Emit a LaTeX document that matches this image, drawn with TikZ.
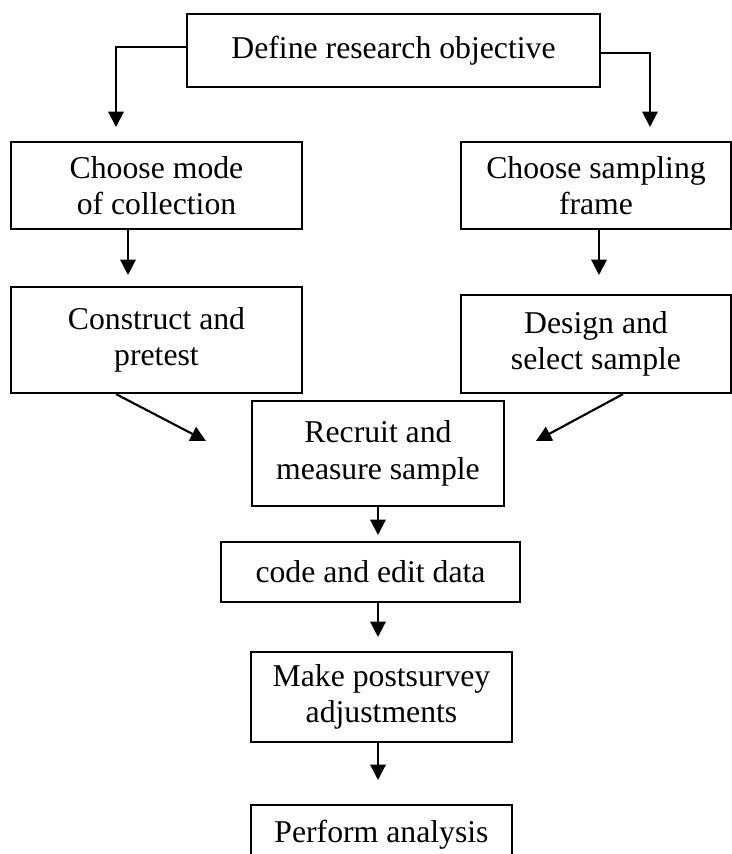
\documentclass[tikz,border=0pt]{standalone}
\usepackage{fontspec}
\setmainfont{Liberation Serif}
\usetikzlibrary{arrows.meta}
\begin{document}
\begin{tikzpicture}[x=0.75pt,y=-0.75pt,
  box/.style={draw, line width=1.6pt, align=center, inner sep=0pt,
    font=\fontsize{23.8}{27.5}\selectfont},
  arr/.style={line width=1.6pt, -{Triangle[length=11.5pt,width=11.5pt]}}]
\useasboundingbox (0,0) rectangle (732,854);
\clip (0,0) rectangle (732,854);
% boxes
\node[box, minimum width=413*0.75pt, minimum height=73*0.75pt] (def) at (393.5,50.5) {Define research objective};
\node[box, minimum width=291*0.75pt, minimum height=87*0.75pt] (mode) at (156.5,185.5) {Choose mode\\of collection};
\node[box, minimum width=270*0.75pt, minimum height=87*0.75pt] (frame) at (596,185.5) {Choose sampling\\frame};
\node[box, minimum width=291*0.75pt, minimum height=106*0.75pt] (cons) at (156.5,340) {Construct and\\pretest};
\node[box, minimum width=270*0.75pt, minimum height=98*0.75pt] (design) at (596,344) {Design and\\select sample};
\node[box, minimum width=252*0.75pt, minimum height=105*0.75pt] (recruit) at (378,453.5) {Recruit and\\measure sample};
\node[box, minimum width=299*0.75pt, minimum height=60*0.75pt] (code) at (370.5,572) {code and edit data};
\node[box, minimum width=261*0.75pt, minimum height=90*0.75pt] (make) at (381.5,697) {Make postsurvey\\adjustments};
\node[box, minimum width=261*0.75pt, minimum height=60*0.75pt] (perf) at (381.5,835) {Perform analysis};
% helper coordinates
\coordinate (yl) at (0,47);
\coordinate (yr) at (0,53);
\coordinate (tl) at (116,127);
\coordinate (tr) at (650,127);
\coordinate (xm) at (128,0);
\coordinate (tm) at (128,275);
\coordinate (xf) at (599,0);
\coordinate (tf) at (599,275);
\coordinate (xc) at (116,0);
\coordinate (tc) at (206,441);
\coordinate (xd) at (623,0);
\coordinate (td) at (536,441);
\coordinate (t1) at (378,535);
\coordinate (t2) at (378,637);
\coordinate (t3) at (378,780);
% connectors
\draw[arr] (def.west |- yl) -| (tl);
\draw[arr] (def.east |- yr) -| (tr);
\draw[arr] (mode.south -| xm) -- (tm);
\draw[arr] (frame.south -| xf) -- (tf);
\draw[arr] (cons.south -| xc) -- (tc);
\draw[arr] (design.south -| xd) -- (td);
\draw[arr] (recruit.south -| t1) -- (t1);
\draw[arr] (code.south -| t2) -- (t2);
\draw[arr] (make.south -| t3) -- (t3);
\end{tikzpicture}
\end{document}
